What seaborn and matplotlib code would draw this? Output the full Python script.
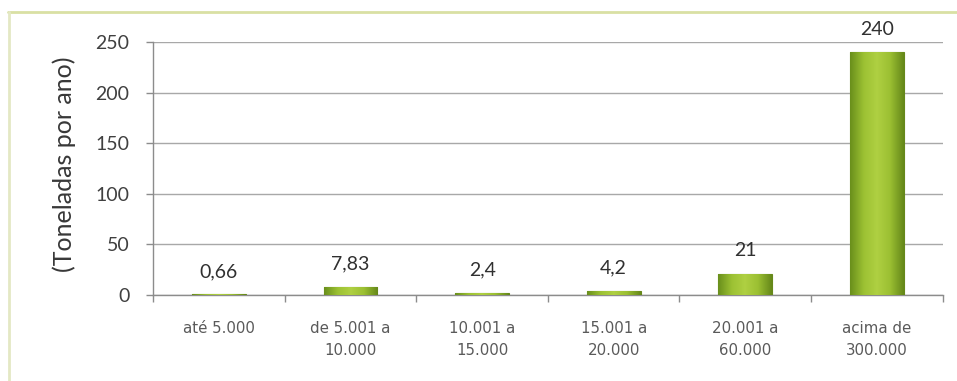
import matplotlib
matplotlib.use("Agg")
import matplotlib.pyplot as plt
import numpy as np
import pandas as pd
import seaborn as sns
from matplotlib.colors import LinearSegmentedColormap
from matplotlib.lines import Line2D

# Generation ranges and tonnage per year
categories = ["até 5.000", "de 5.001 a\n10.000", "10.001 a\n15.000",
              "15.001 a\n20.000", "20.001 a\n60.000", "acima de\n300.000"]
values = [0.66, 7.83, 2.4, 4.2, 21, 240]
value_labels = ["0,66", "7,83", "2,4", "4,2", "21", "240"]
y_ticks = [0, 50, 100, 150, 200, 250]

df = pd.DataFrame({"faixa": categories, "toneladas": values})

sns.set_theme(style="white")
plt.rcParams["font.family"] = ["Lato", "DejaVu Sans"]

fig = plt.figure(figsize=(9.57, 3.81), dpi=100)
ax = fig.add_axes([0.16, 0.2257, 0.825, 0.6641])

sns.barplot(data=df, x="faixa", y="toneladas", ax=ax, width=0.41,
            color="#94b830", edgecolor="#66881a", linewidth=0.8,
            saturation=1, zorder=3)

# cylinder-like shading across each bar
shade = LinearSegmentedColormap.from_list(
    "shade", ["#6a901c", "#9cc133", "#afd042", "#9bbf32", "#66891a"])
grad = np.linspace(0, 1, 64).reshape(1, -1)
for bar in ax.patches:
    x0, y0 = bar.get_x(), bar.get_y()
    w, h = bar.get_width(), bar.get_height()
    im = ax.imshow(grad, cmap=shade, aspect="auto",
                   extent=[x0, x0 + w, y0, y0 + h], zorder=3.5)
    im.set_clip_path(bar)

ax.set_xlim(-0.5, len(categories) - 0.5)
ax.set_ylim(0, 250)
ax.set_yticks(y_ticks)
ax.set_yticklabels([str(t) for t in y_ticks], fontsize=14, color="#404040")
ax.yaxis.grid(True, color="#a8a8a8", linewidth=1.0, zorder=0)
ax.set_axisbelow(True)

ax.set_xticks(range(len(categories)))
ax.set_xticklabels(categories, fontsize=10.8, color="#5a5a5a",
                   family=["DejaVu Sans"], linespacing=1.55)
ax.tick_params(axis="x", which="major", length=0, pad=19)
ax.set_xticks(np.arange(-0.5, len(categories), 1.0), minor=True)
ax.tick_params(axis="x", which="minor", length=5, color="#8c8c8c",
               width=1, direction="out", bottom=True)
ax.tick_params(axis="y", length=5, color="#8c8c8c", width=1,
               direction="out", left=True, pad=12)

for side in ["top", "right"]:
    ax.spines[side].set_visible(False)
for side in ["left", "bottom"]:
    ax.spines[side].set_color("#8c8c8c")
    ax.spines[side].set_linewidth(1.0)

ax.set_xlabel("")
ax.set_ylabel("(Toneladas por ano)", fontsize=18, color="#383838")
ax.yaxis.set_label_coords(-0.098, 0.515)

for i, (v, lab) in enumerate(zip(values, value_labels)):
    ax.annotate(lab, (i, v), xytext=(0, 16.5), textcoords="offset points",
                ha="center", va="center", fontsize=14, color="#303030")

# outer frame of the chart area
fig.add_artist(Line2D([8 / 957, 1.0], [1 - 12 / 381, 1 - 12 / 381],
                      transform=fig.transFigure, color="#d9e0a4", linewidth=2))
fig.add_artist(Line2D([9 / 957, 9 / 957], [0, 1 - 12 / 381],
                      transform=fig.transFigure, color="#e4e8c4", linewidth=2))

fig.savefig("out.png", dpi=100)
